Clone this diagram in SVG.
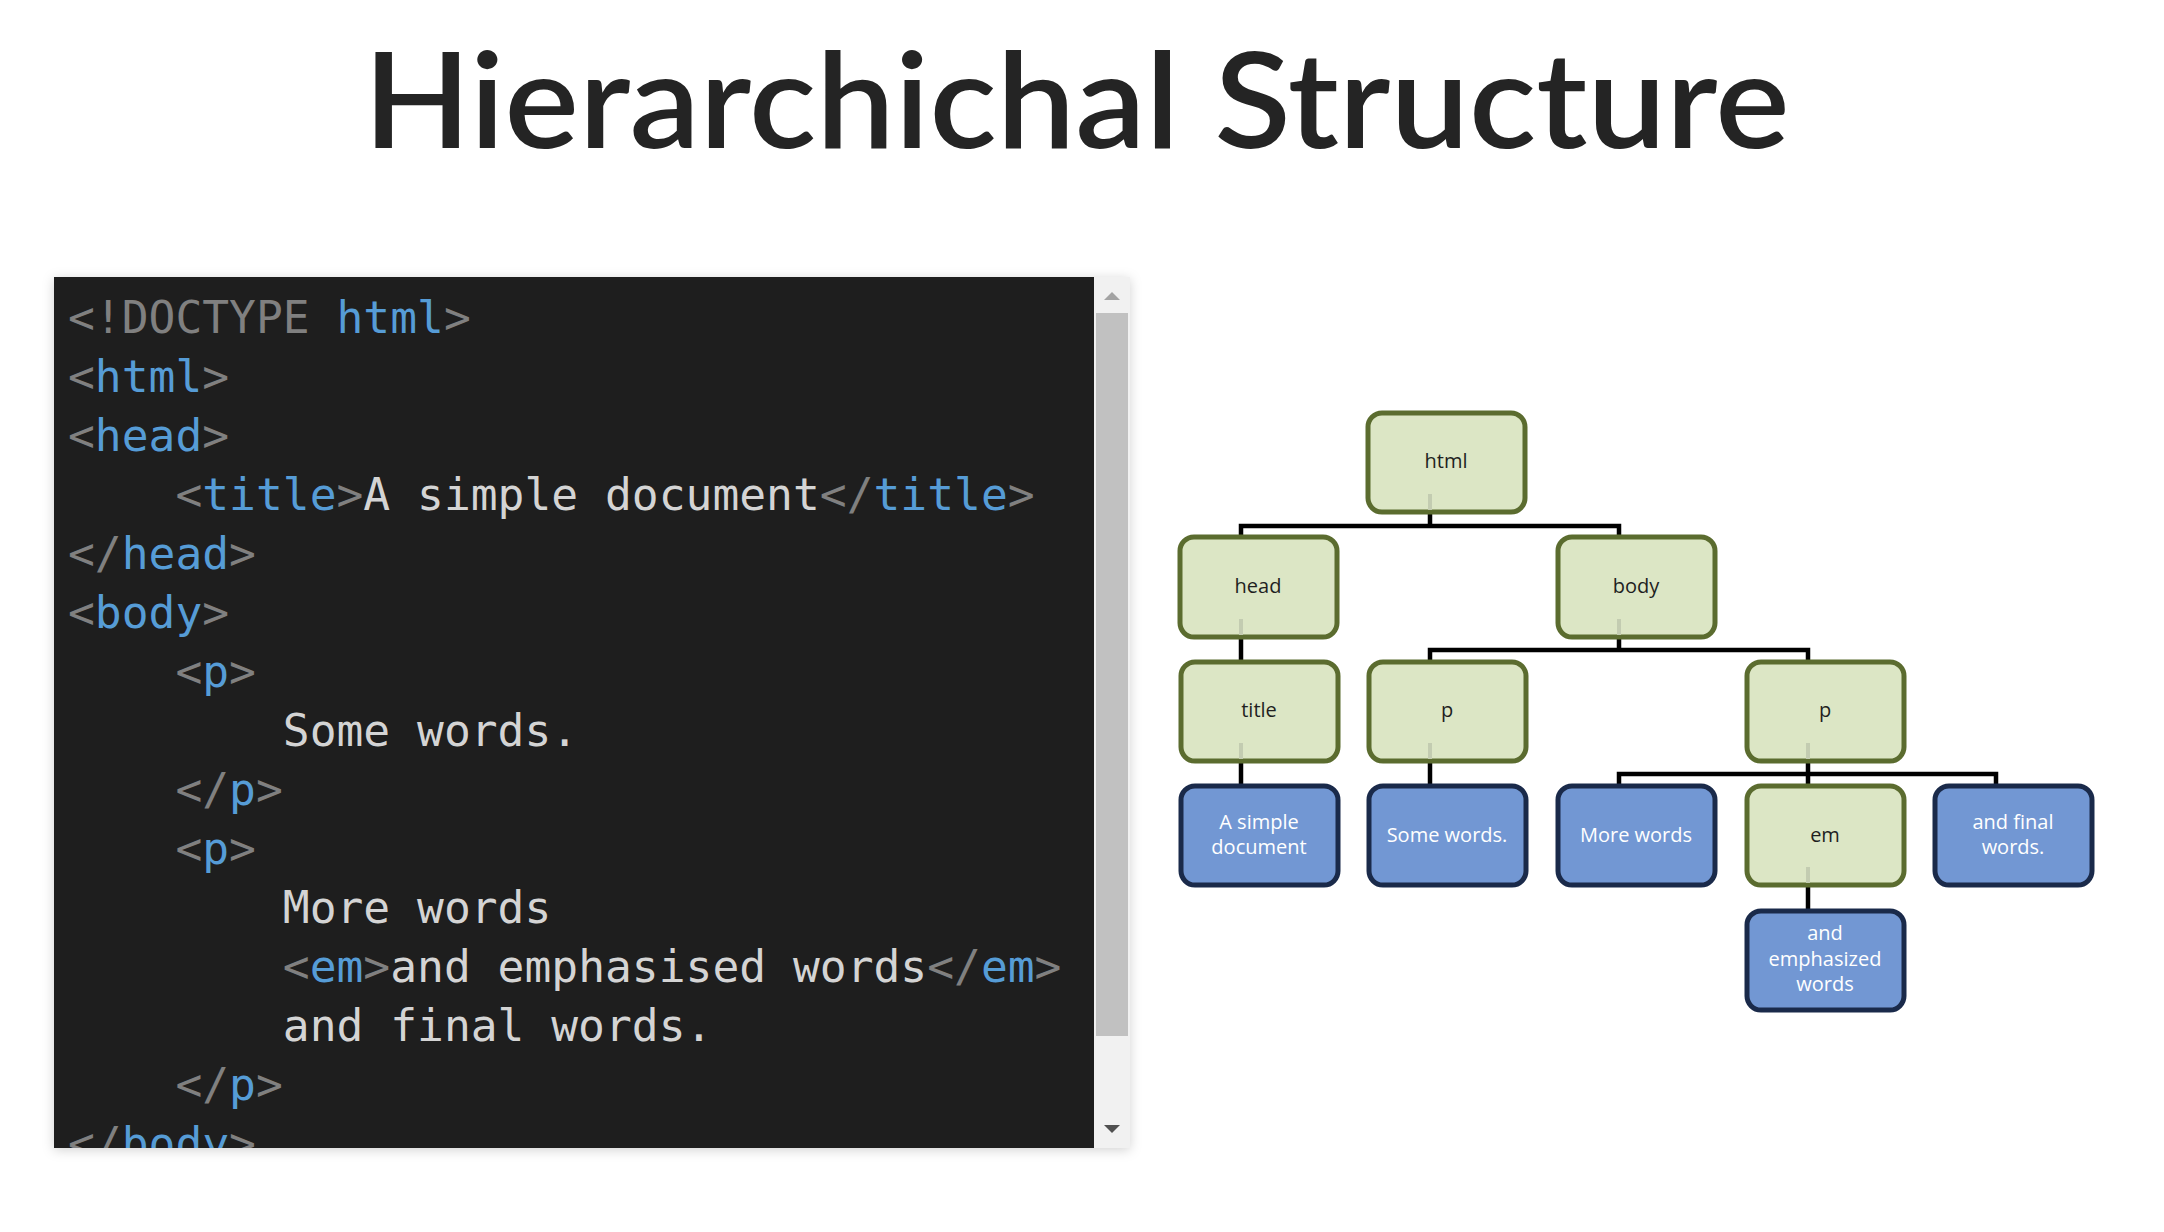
<svg xmlns="http://www.w3.org/2000/svg" width="2164" height="1232" viewBox="0 0 2164 1232">
  <style>
    .title { font-family: Lato, "Noto Sans", sans-serif; font-weight: 600; font-size: 132px; fill: #242424; }
    .code { font-family: "DejaVu Sans Mono", "Liberation Mono", monospace; font-size: 44.6px; }
    .p { fill: #808080; }
    .t { fill: #569cd6; }
    .x { fill: #d4d4d4; }
    .el rect { fill: #dce6c5; stroke: #5b6c2f; stroke-width: 5; }
    .tx rect { fill: #7297d3; stroke: #1a2a4a; stroke-width: 5; }
    .el text { font-family: "Open Sans", "Liberation Sans", sans-serif; font-size: 20px; fill: #1f1f1f; text-anchor: middle; }
    .tx text { font-family: "Open Sans", "Liberation Sans", sans-serif; font-size: 20px; fill: #ffffff; text-anchor: middle; }
    .stub { stroke: #c3ccb1; stroke-width: 4; }
    .link { fill: none; stroke: #000000; stroke-width: 4.5; }
  </style>
  <defs>
    <filter id="shadow" x="-5%" y="-5%" width="110%" height="110%">
      <feDropShadow dx="0" dy="2" stdDeviation="6" flood-color="#000000" flood-opacity="0.18"/>
    </filter>
    <clipPath id="panelClip">
      <rect x="54" y="277" width="1040" height="871"/>
    </clipPath>
  </defs>

  <rect width="2164" height="1232" fill="#ffffff"/>

  <text class="title" x="1076.5" y="148" text-anchor="middle" textLength="1426" lengthAdjust="spacingAndGlyphs">Hierarchichal Structure</text>

  <!-- code editor panel -->
  <g id="code-panel">
    <rect x="54" y="277" width="1076" height="871" fill="#f1f1f1" filter="url(#shadow)"/>
    <rect x="54" y="277" width="1040" height="871" fill="#1e1e1e"/>
    <rect x="1096" y="313" width="32" height="723" fill="#c1c1c1"/>
    <polygon points="1104,300 1120,300 1112,292" fill="#a3a3a3"/>
    <polygon points="1104,1125 1120,1125 1112,1133" fill="#505050"/>
    <g class="code" clip-path="url(#panelClip)">
      <text x="68" y="333"><tspan class="p">&lt;!DOCTYPE </tspan><tspan class="t">html</tspan><tspan class="p">&gt;</tspan></text>
      <text x="68" y="392"><tspan class="p">&lt;</tspan><tspan class="t">html</tspan><tspan class="p">&gt;</tspan></text>
      <text x="68" y="451"><tspan class="p">&lt;</tspan><tspan class="t">head</tspan><tspan class="p">&gt;</tspan></text>
      <text x="175.4" y="510"><tspan class="p">&lt;</tspan><tspan class="t">title</tspan><tspan class="p">&gt;</tspan><tspan class="x">A simple document</tspan><tspan class="p">&lt;/</tspan><tspan class="t">title</tspan><tspan class="p">&gt;</tspan></text>
      <text x="68" y="569"><tspan class="p">&lt;/</tspan><tspan class="t">head</tspan><tspan class="p">&gt;</tspan></text>
      <text x="68" y="628"><tspan class="p">&lt;</tspan><tspan class="t">body</tspan><tspan class="p">&gt;</tspan></text>
      <text x="175.4" y="687"><tspan class="p">&lt;</tspan><tspan class="t">p</tspan><tspan class="p">&gt;</tspan></text>
      <text x="282.8" y="746" class="x">Some words.</text>
      <text x="175.4" y="805"><tspan class="p">&lt;/</tspan><tspan class="t">p</tspan><tspan class="p">&gt;</tspan></text>
      <text x="175.4" y="864"><tspan class="p">&lt;</tspan><tspan class="t">p</tspan><tspan class="p">&gt;</tspan></text>
      <text x="282.8" y="923" class="x">More words</text>
      <text x="282.8" y="982"><tspan class="p">&lt;</tspan><tspan class="t">em</tspan><tspan class="p">&gt;</tspan><tspan class="x">and emphasised words</tspan><tspan class="p">&lt;/</tspan><tspan class="t">em</tspan><tspan class="p">&gt;</tspan></text>
      <text x="282.8" y="1041" class="x">and final words.</text>
      <text x="175.4" y="1100"><tspan class="p">&lt;/</tspan><tspan class="t">p</tspan><tspan class="p">&gt;</tspan></text>
      <text x="68" y="1159"><tspan class="p">&lt;/</tspan><tspan class="t">body</tspan><tspan class="p">&gt;</tspan></text>
    </g>
  </g>

  <!-- tree connectors -->
  <g id="connectors">
    <path class="link" d="M1430,512 V526 M1241,537 V526 H1619 V537"/>
    <path class="link" d="M1241,637 V662"/>
    <path class="link" d="M1619,637 V650 M1430,662 V650 H1808 V662"/>
    <path class="link" d="M1241,761 V786"/>
    <path class="link" d="M1430,761 V786"/>
    <path class="link" d="M1808,761 V774 M1619,786 V774 H1996 V786 M1808,774 V786"/>
    <path class="link" d="M1808,885 V911"/>
  </g>

  <!-- element nodes -->
  <g id="node-html" class="el">
    <rect x="1368" y="413" width="157" height="99" rx="14"/>
    <line class="stub" x1="1430" y1="494" x2="1430" y2="510"/>
    <text x="1446" y="468">html</text>
  </g>
  <g id="node-head" class="el">
    <rect x="1180" y="537" width="157" height="100" rx="14"/>
    <line class="stub" x1="1241" y1="619" x2="1241" y2="635"/>
    <text x="1258" y="593">head</text>
  </g>
  <g id="node-body" class="el">
    <rect x="1558" y="537" width="157" height="100" rx="14"/>
    <line class="stub" x1="1619" y1="619" x2="1619" y2="635"/>
    <text x="1636" y="593">body</text>
  </g>
  <g id="node-title" class="el">
    <rect x="1181" y="662" width="157" height="99" rx="14"/>
    <line class="stub" x1="1241" y1="743" x2="1241" y2="759"/>
    <text x="1259" y="717">title</text>
  </g>
  <g id="node-p1" class="el">
    <rect x="1369" y="662" width="157" height="99" rx="14"/>
    <line class="stub" x1="1430" y1="743" x2="1430" y2="759"/>
    <text x="1447" y="717">p</text>
  </g>
  <g id="node-p2" class="el">
    <rect x="1747" y="662" width="157" height="99" rx="14"/>
    <line class="stub" x1="1808" y1="743" x2="1808" y2="759"/>
    <text x="1825" y="717">p</text>
  </g>
  <g id="node-em" class="el">
    <rect x="1747" y="786" width="157" height="99" rx="14"/>
    <line class="stub" x1="1808" y1="867" x2="1808" y2="883"/>
    <text x="1825" y="842">em</text>
  </g>

  <!-- text nodes -->
  <g id="node-simple-document" class="tx">
    <rect x="1181" y="786" width="157" height="99" rx="14"/>
    <text x="1259" y="829">A simple</text>
    <text x="1259" y="854">document</text>
  </g>
  <g id="node-some-words" class="tx">
    <rect x="1369" y="786" width="157" height="99" rx="14"/>
    <text x="1447" y="842">Some words.</text>
  </g>
  <g id="node-more-words" class="tx">
    <rect x="1558" y="786" width="157" height="99" rx="14"/>
    <text x="1636" y="842">More words</text>
  </g>
  <g id="node-final-words" class="tx">
    <rect x="1935" y="786" width="157" height="99" rx="14"/>
    <text x="2013" y="829">and final</text>
    <text x="2013" y="854">words.</text>
  </g>
  <g id="node-emphasized-words" class="tx">
    <rect x="1747" y="911" width="157" height="99" rx="14"/>
    <text x="1825" y="940">and</text>
    <text x="1825" y="966">emphasized</text>
    <text x="1825" y="991">words</text>
  </g>
</svg>
